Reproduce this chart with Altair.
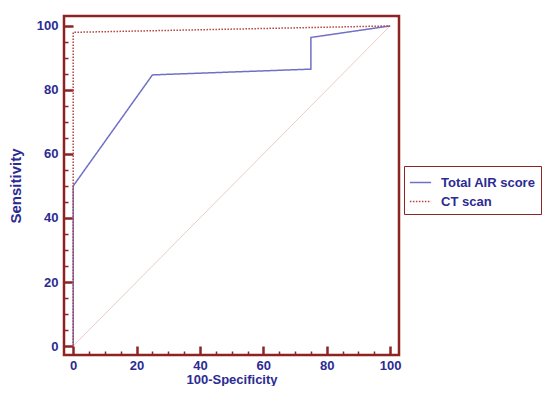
import altair as alt
import pandas as pd

series_names = ["Total AIR score", "CT scan"]
air_x = [0, 0, 25, 75, 75, 100]
air_y = [0, 50, 84.7, 86.5, 96.4, 100]
ct_x = [0, 0, 100]
ct_y = [0, 98, 100]
diag_x = [0, 100]
diag_y = [0, 100]
major_ticks = [0, 20, 40, 60, 80, 100]
minor_ticks = [5, 10, 15, 25, 30, 35, 45, 50, 55, 65, 70, 75, 85, 90, 95]

rows = []
for i, (x, y) in enumerate(zip(air_x, air_y)):
    rows.append({"series": series_names[0], "x": x, "y": y, "o": i})
for i, (x, y) in enumerate(zip(ct_x, ct_y)):
    rows.append({"series": series_names[1], "x": x, "y": y, "o": i})
df = pd.DataFrame(rows)
diag = pd.DataFrame({"x": diag_x, "y": diag_y})

MAROON = "#8E2323"
NAVY = "#2B2B93"
FONT = "Liberation Sans"


def major_axis(title, orient, pad, tsize, **kw):
    return alt.Axis(
        title=title, orient=orient, values=major_ticks, domain=False, grid=False,
        offset=-9, tickSize=9, tickColor=MAROON, tickWidth=2.5,
        labelFont=FONT, labelFontWeight="bold", labelColor=NAVY, labelFontSize=13,
        labelPadding=pad,
        titleFont=FONT, titleFontWeight="bold", titleColor=NAVY, titleFontSize=tsize,
        **kw,
    )


def minor_axis(orient):
    return alt.Axis(
        title=None, orient=orient, values=minor_ticks, domain=False, grid=False,
        offset=-4, tickSize=4, tickColor=MAROON, tickWidth=1.5, labels=False,
    )


xs = alt.Scale(domain=[-2.9, 102.8], nice=False, zero=False)
ys = alt.Scale(domain=[-2.8, 103.1], nice=False, zero=False)

diag_layer = alt.Chart(diag).mark_line(color="#EDCACA", strokeWidth=1).encode(
    x=alt.X("x:Q", scale=xs, axis=major_axis("100-Specificity", "bottom", 4, 13,
                                             titleY=37, titleBaseline="alphabetic")),
    y=alt.Y("y:Q", scale=ys, axis=major_axis("Sensitivity", "left", 6, 15, titlePadding=13)),
)

lines = alt.Chart(df).mark_line(strokeWidth=1.5).encode(
    x=alt.X("x:Q", scale=xs, axis=minor_axis("bottom")),
    y=alt.Y("y:Q", scale=ys, axis=minor_axis("left")),
    order="o:Q",
    color=alt.Color("series:N", scale=alt.Scale(domain=series_names, range=["#7070C6", "#B84040"]),
                    legend=alt.Legend(title=None, orient="none", legendX=340, legendY=150,
                                      symbolType="stroke", symbolStrokeWidth=1.5, symbolSize=450,
                                      labelFont=FONT, labelFontWeight="bold", labelColor=NAVY,
                                      labelFontSize=13, strokeColor=MAROON, padding=5,
                                      rowPadding=-5, labelOffset=9, labelLimit=200)),
    strokeDash=alt.StrokeDash("series:N", scale=alt.Scale(domain=series_names, range=[[1, 0], [1.5, 1.5]]),
                              legend=None),
)

chart = alt.layer(diag_layer, lines).resolve_axis(x="independent", y="independent").properties(
    width=335, height=339,
    background="white",
    autosize=alt.AutoSizeParams(type="none"),
    padding={"left": 56, "top": 8, "right": 146, "bottom": 31},
).configure_view(stroke=MAROON, strokeWidth=2.5)

chart.save("out.html", embed_options={"renderer": "svg", "actions": False})
